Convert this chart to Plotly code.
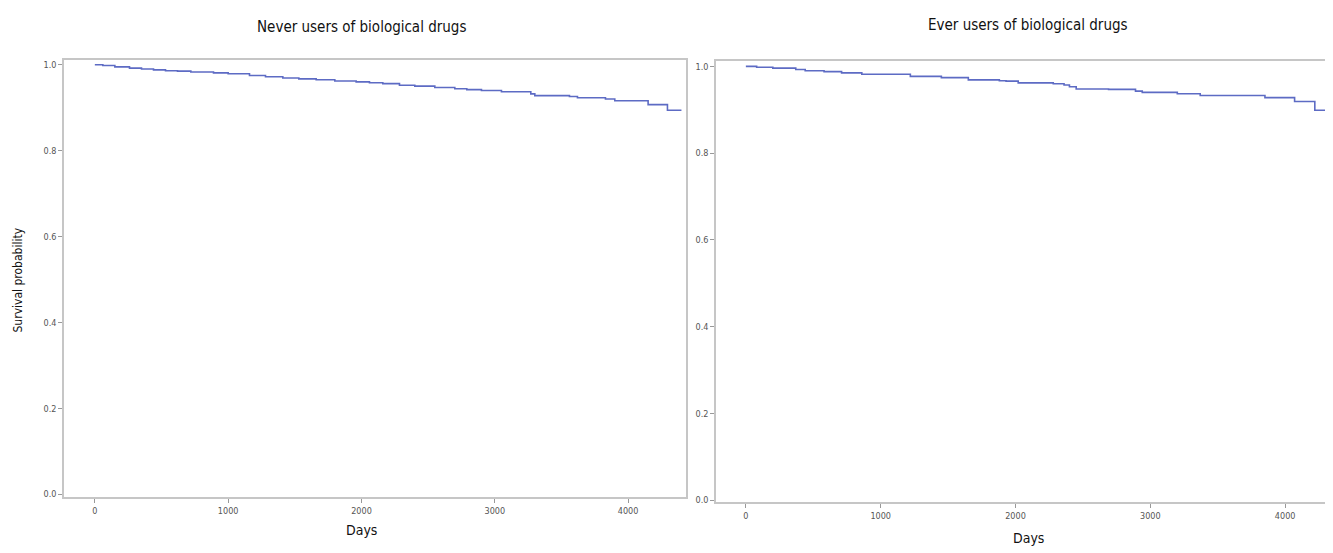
import plotly.graph_objects as go

# ---- data ----
titles = ["Never users of biological drugs", "Ever users of biological drugs"]
x_tick_vals = [0, 1000, 2000, 3000, 4000]
y_tick_vals = [0.0, 0.2, 0.4, 0.6, 0.8, 1.0]

days_never = [0, 60, 150, 260, 350, 440, 530, 620, 720, 890, 1000, 1160, 1280, 1410, 1530, 1660, 1800, 1960,
              2060, 2160, 2285, 2400, 2550, 2700, 2790, 2900, 3050, 3270, 3300, 3560, 3620, 3830, 3900, 4150,
              4295, 4400]
surv_never = [1.0, 0.998, 0.995, 0.992, 0.990, 0.988, 0.986, 0.985, 0.983, 0.981, 0.979, 0.975, 0.972, 0.969,
              0.967, 0.965, 0.962, 0.960, 0.958, 0.956, 0.952, 0.950, 0.947, 0.944, 0.942, 0.940, 0.937, 0.932,
              0.928, 0.926, 0.923, 0.920, 0.916, 0.907, 0.894, 0.894]

days_ever = [0, 80, 200, 370, 440, 580, 710, 860, 1220, 1450, 1650, 1880, 1930, 2020, 2280, 2360, 2400, 2450,
             2690, 2890, 2940, 3200, 3370, 3850, 4070, 4220, 4340]
surv_ever = [1.0, 0.998, 0.996, 0.993, 0.990, 0.988, 0.985, 0.982, 0.977, 0.974, 0.969, 0.967, 0.966, 0.962,
             0.960, 0.957, 0.953, 0.948, 0.947, 0.943, 0.940, 0.937, 0.933, 0.928, 0.919, 0.899, 0.899]

FONT = "DejaVu Sans Condensed, Liberation Sans Narrow, Arial Narrow, Liberation Sans, Arial, sans-serif"
LINE = "#5d6bc4"
FRAME = "#c6c6c6"

fig = go.Figure()
fig.add_trace(go.Scatter(x=days_never, y=surv_never, mode="lines", line=dict(shape="hv", color=LINE, width=1.6),
                         xaxis="x", yaxis="y", showlegend=False))
fig.add_trace(go.Scatter(x=days_ever, y=surv_ever, mode="lines", line=dict(shape="hv", color=LINE, width=1.6),
                         xaxis="x2", yaxis="y2", showlegend=False))

OFF = 8  # page body margin
W, H = 1325, 545


def px(x):
    return (x - OFF) / W


def py(y):
    return 1 - (y - OFF) / H


def ax_common():
    return dict(showline=True, mirror=True, linecolor=FRAME, linewidth=1.5, showgrid=False, zeroline=False,
                ticks="outside", ticklen=4, tickcolor="#999", tickwidth=1,
                tickfont=dict(family=FONT, size=9, color="#555"))


fig.update_layout(
    width=W, height=H,
    margin=dict(l=0, r=0, t=0, b=0),
    paper_bgcolor="white", plot_bgcolor="white",
    xaxis=dict(domain=[px(64), px(687)], range=[-232, 4434], tickvals=x_tick_vals, anchor="y", **ax_common()),
    yaxis=dict(domain=[py(500), py(60)], range=[-0.007, 1.0116], tickvals=y_tick_vals, tickformat=".1f",
               anchor="x", **ax_common()),
    xaxis2=dict(domain=[px(717), 1.0], range=[-222, 4340], tickvals=x_tick_vals, anchor="y2", **ax_common()),
    yaxis2=dict(domain=[py(505), py(61.7)], range=[-0.0046, 1.0115], tickvals=y_tick_vals, tickformat=".1f",
                anchor="x2", **ax_common()),
)

ann = [
    dict(text=titles[0], x=px(362), y=py(27), font=dict(size=15, family=FONT, color="#111")),
    dict(text=titles[1], x=px(1030), y=py(25), font=dict(size=15, family=FONT, color="#111")),
    dict(text="Days", x=px(362), y=py(533), font=dict(size=14, family=FONT, color="#111")),
    dict(text="Days", x=px(1030), y=py(541), font=dict(size=14, family=FONT, color="#111")),
    dict(text="Survival probability", x=px(19), y=py(281), textangle=-90,
         font=dict(size=12, family=FONT, color="#111")),
]
for a in ann:
    fig.add_annotation(xref="paper", yref="paper", showarrow=False, xanchor="center", yanchor="middle", **a)

fig.write_html("out.html")
